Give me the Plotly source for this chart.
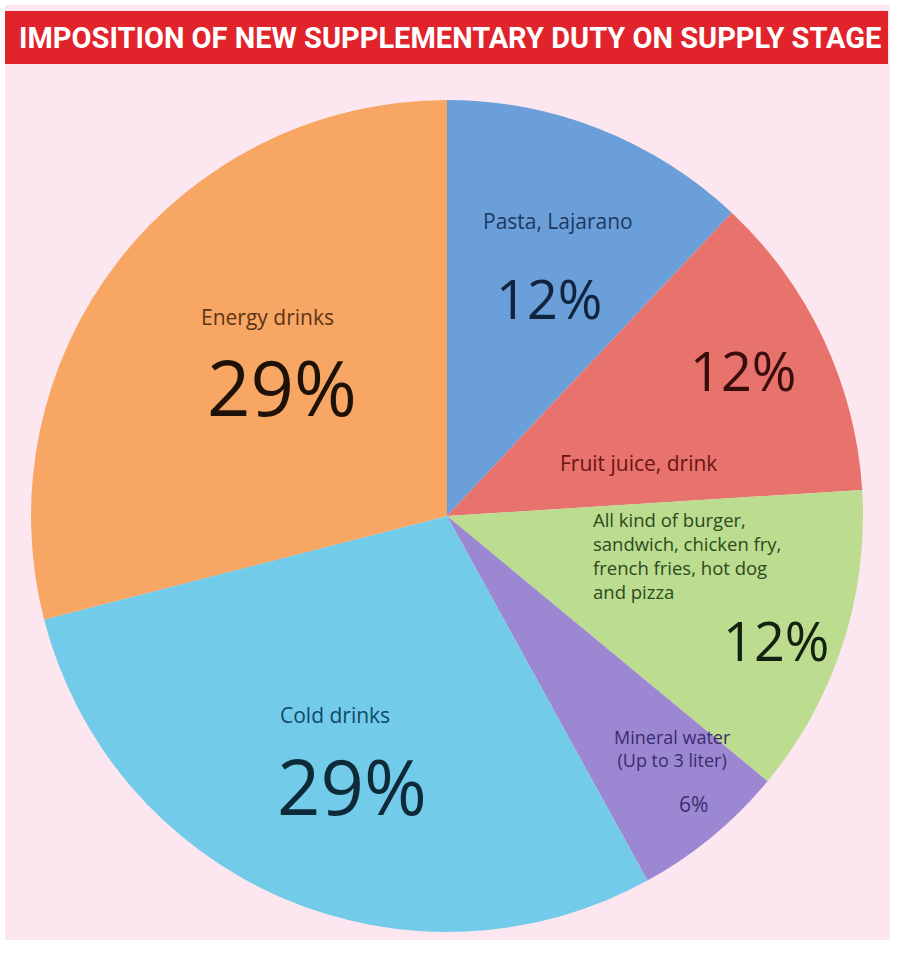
import plotly.graph_objects as go

categories = ["Pasta, Lajarano", "Fruit juice, drink",
              "All kind of burger, sandwich, chicken fry, french fries, hot dog and pizza",
              "Mineral water (Up to 3 liter)", "Cold drinks", "Energy drinks"]
values = [12, 12, 12, 6, 29, 29]
colors = ["#6b9fd9", "#e8736c", "#bcdc90", "#9c88d2", "#72cbe9", "#f7a663"]
title_text = "IMPOSITION OF NEW SUPPLEMENTARY DUTY ON SUPPLY STAGE"

W, H = 900, 957

fig = go.Figure()
fig.add_trace(go.Pie(
    labels=categories, values=values, sort=False, direction="clockwise",
    rotation=0, textinfo="none", hoverinfo="label+percent",
    marker=dict(colors=colors, line=dict(width=0)),
    domain=dict(x=[30 / W, 864 / W], y=[1 - 932 / H, 1 - 100 / H]),
    showlegend=False,
))

def px(x, y):
    return dict(x=x / W, y=1 - y / H, xref="paper", yref="paper")

anns = []
lab_font = "Open Sans, Noto Sans, sans-serif"
pct = [f"{v}%" for v in values]

def add(x, y, text, size, color, align="center", xanchor="center"):
    anns.append(dict(**px(x, y), text=text, showarrow=False, align=align,
                     xanchor=xanchor, yanchor="middle",
                     font=dict(family=lab_font, size=size, color=color)))

# Pasta
add(558, 221, categories[0], 21, "#1d3a5e")
add(549, 298, pct[0], 54, "#10243e")
# Fruit juice
add(743, 370, pct[1], 54, "#3a0d0d")
add(638, 463, categories[1], 21, "#6b1414")
# Burger
add(591, 555, "All kind of burger,<br>sandwich, chicken fry,<br>french fries, hot dog<br>and pizza",
    18.5, "#2c4a1c", align="left", xanchor="left")
add(776, 640, pct[2], 54, "#142010")
# Mineral water
add(672, 748, "Mineral water<br>(Up to 3 liter)", 18, "#3b2c6c")
add(693, 804, pct[3], 21, "#3b2c6c")
# Energy
add(267, 317, categories[5], 21, "#5c3416")
add(282, 386, pct[5], 76, "#1e1208")
# Cold drinks
add(335, 715, categories[4], 21, "#0f4a68")
add(352, 785, pct[4], 76, "#0e2a38")

# title
anns.append(dict(**px(450, 38), text="<b>" + title_text + "</b>", showarrow=False,
                 xanchor="center", yanchor="middle",
                 font=dict(family="Roboto, Liberation Sans, sans-serif",
                           size=29, color="#ffffff")))

shapes = [
    dict(type="rect", xref="paper", yref="paper", x0=5 / W, x1=890 / W,
         y0=1 - 940 / H, y1=1 - 5 / H, fillcolor="#fce6f0", line=dict(width=0), layer="below"),
    dict(type="rect", xref="paper", yref="paper", x0=5 / W, x1=888 / W,
         y0=1 - 64 / H, y1=1 - 11 / H, fillcolor="#e1232b", line=dict(width=0), layer="below"),
]

fig.update_layout(
    width=W, height=H, margin=dict(l=0, r=0, t=0, b=0),
    paper_bgcolor="#ffffff", plot_bgcolor="#ffffff",
    annotations=anns, shapes=shapes,
)

fig.write_html("out.html")
